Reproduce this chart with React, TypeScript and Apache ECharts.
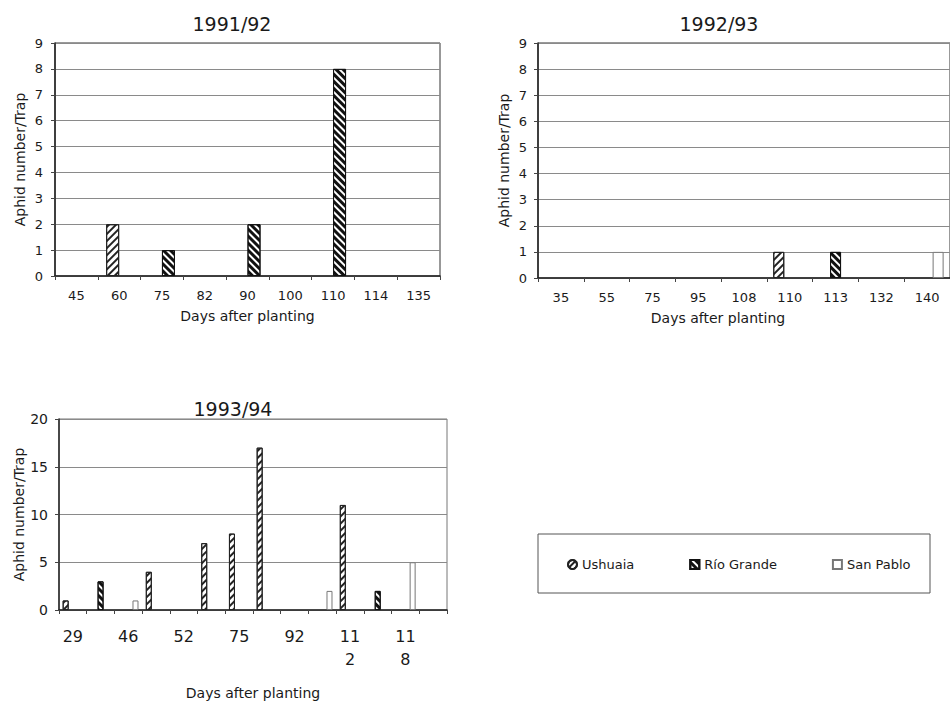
import React, { useEffect, useRef } from "react";
import * as echarts from "echarts";

const days9192 = ["45", "60", "75", "82", "90", "100", "110", "114", "135"];
const ushuaia9192 = [0, 2, 0, 0, 0, 0, 0, 0, 0];
const rioGrande9192 = [0, 0, 1, 0, 2, 0, 8, 0, 0];

const days9293 = ["35", "55", "75", "95", "108", "110", "113", "132", "140"];
const ushuaia9293 = [0, 0, 0, 0, 0, 1, 0, 0, 0];
const rioGrande9293 = [0, 0, 0, 0, 0, 0, 1, 0, 0];
const sanPablo9293 = [0, 0, 0, 0, 0, 0, 0, 0, 1];

const days9394 = ["29", "", "46", "", "52", "", "75", "", "92", "", "112", "", "118", ""];
const ushuaia9394 = [1, 0, 0, 4, 0, 7, 8, 17, 0, 0, 11, 0, 0, 0];
const rioGrande9394 = [0, 3, 0, 0, 0, 0, 0, 0, 0, 0, 0, 2, 0, 0];
const sanPablo9394 = [0, 0, 1, 0, 0, 0, 0, 0, 0, 2, 0, 0, 5, 0];

const seasons = ["1991/92", "1992/93", "1993/94"];
const siteNames = ["Ushuaia", "Río Grande", "San Pablo"];
const yAxisTitle = "Aphid number/Trap";
const xAxisTitle = "Days after planting";

const FONT = '"DejaVu Sans", "Open Sans", sans-serif';
const INK = "#1a1a1a";

const styleUsh = {
  color: "#fff",
  borderColor: "#222",
  borderWidth: 1,
  decal: {
    symbol: "rect",
    symbolSize: 1,
    dashArrayX: [1, 0],
    dashArrayY: [1.6, 2.6],
    rotation: -Math.PI / 4,
    color: "#222",
  },
};
const styleRio = {
  color: "#fff",
  borderColor: "#111",
  borderWidth: 1,
  decal: {
    symbol: "rect",
    symbolSize: 1,
    dashArrayX: [1, 0],
    dashArrayY: [2.2, 2],
    rotation: Math.PI / 4,
    color: "#111",
  },
};
const styleSan = {
  color: "#fff",
  borderColor: "#777",
  borderWidth: 1,
};

// zero counts are drawn as no bar at all
const bars = (values: number[]) => values.map((v) => (v === 0 ? null : v));

export default function App() {
  const ref = useRef<HTMLDivElement>(null);

  useEffect(() => {
    if (!ref.current) return;
    const chart = echarts.init(ref.current, undefined, { renderer: "svg" });

    const grids = [
      { left: 55, top: 43, width: 385, height: 233 },
      { left: 538, top: 43, width: 417, height: 235 },
      { left: 59, top: 419, width: 388, height: 191 },
    ].map((g, i) => ({
      ...g,
      show: true,
      borderColor: i === 2 ? "#777" : "#333",
      borderWidth: 1,
      backgroundColor: "transparent",
    }));

    const xCommon = (gridIndex: number, data: string[], fontSize: number, margin: number, extra: any = {}) => ({
      type: "category",
      gridIndex,
      data,
      axisLine: { show: true, lineStyle: { color: "#222", width: 1.5 } },
      axisTick: { show: true, length: 4, interval: 0, lineStyle: { color: "#444" } },
      axisLabel: {
        interval: 0,
        color: INK,
        fontFamily: FONT,
        fontSize,
        margin,
        ...(extra.axisLabel || {}),
      },
      splitLine: { show: false },
      ...(extra.rest || {}),
    });

    const yCommon = (gridIndex: number, max: number, interval: number, fontSize: number, margin: number, nameGap: number) => ({
      type: "value",
      gridIndex,
      min: 0,
      max,
      interval,
      name: yAxisTitle,
      nameLocation: "middle",
      nameGap,
      nameTextStyle: { color: INK, fontFamily: FONT, fontSize: 14 },
      axisLine: { show: true, lineStyle: { color: "#222", width: 1.5 } },
      axisTick: { show: true, length: 4, lineStyle: { color: "#444" } },
      axisLabel: { color: INK, fontFamily: FONT, fontSize, margin },
      splitLine: { show: true, lineStyle: { color: "#8a8a8a", width: 1 } },
    });

    const bar = (name: string, data: number[], idx: number, style: any, barWidth: number, barGap: string) => ({
      type: "bar",
      name,
      xAxisIndex: idx,
      yAxisIndex: idx,
      data: bars(data),
      barWidth,
      barGap,
      itemStyle: style,
      emphasis: { disabled: true },
    });

    const option: any = {
      animation: false,
      backgroundColor: "#fff",
      textStyle: { fontFamily: FONT },
      grid: grids,
      xAxis: [
        xCommon(0, days9192, 13, 13, {
          rest: {
            name: xAxisTitle,
            nameLocation: "middle",
            nameGap: 33,
            nameTextStyle: { color: INK, fontFamily: FONT, fontSize: 14 },
          },
        }),
        xCommon(1, days9293, 13, 13),
        xCommon(2, days9394, 16, 15, {
          axisLabel: {
            lineHeight: 23,
            formatter: (v: string) => (v.length > 2 ? v.slice(0, 2) + "\n" + v.slice(2) : v),
          },
          rest: {
            name: xAxisTitle,
            nameLocation: "middle",
            nameGap: 76,
            nameTextStyle: { color: INK, fontFamily: FONT, fontSize: 14 },
          },
        }),
      ],
      yAxis: [
        yCommon(0, 9, 1, 13, 12, 28),
        yCommon(1, 9, 1, 13, 11, 27),
        yCommon(2, 20, 5, 14, 11, 33),
      ],
      legend: {
        left: 562,
        top: 553,
        itemWidth: 9,
        itemHeight: 9,
        itemGap: 55,
        selectedMode: false,
        textStyle: { color: INK, fontFamily: FONT, fontSize: 13 },
        data: [
          { name: siteNames[0], icon: "circle" },
          { name: siteNames[1], icon: "rect" },
          { name: siteNames[2], icon: "rect" },
        ],
      },
      graphic: [
        {
          type: "rect",
          shape: { x: 538, y: 534, width: 392, height: 59 },
          style: { fill: "none", stroke: "#555", lineWidth: 1 },
          silent: true,
        },
        ...[
          { t: seasons[0], x: 232, y: 24 },
          { t: seasons[1], x: 719, y: 24 },
          { t: seasons[2], x: 233, y: 409 },
        ].map((s) => ({
          type: "text",
          x: s.x,
          y: s.y,
          silent: true,
          style: {
            text: s.t,
            fontSize: 19,
            fontFamily: FONT,
            fill: INK,
            align: "center",
            verticalAlign: "middle",
          },
        })),
        {
          type: "text",
          x: 718,
          y: 318,
          silent: true,
          style: {
            text: xAxisTitle,
            fontSize: 14,
            fontFamily: FONT,
            fill: INK,
            align: "center",
            verticalAlign: "middle",
          },
        },
      ],
      series: [
        bar(siteNames[0], ushuaia9192, 0, styleUsh, 13, "0%"),
        bar(siteNames[1], rioGrande9192, 0, styleRio, 13, "0%"),
        bar(siteNames[0], ushuaia9293, 1, styleUsh, 11, "0%"),
        bar(siteNames[1], rioGrande9293, 1, styleRio, 11, "0%"),
        bar(siteNames[2], sanPablo9293, 1, styleSan, 11, "0%"),
        bar(siteNames[0], ushuaia9394, 2, styleUsh, 6, "20%"),
        bar(siteNames[1], rioGrande9394, 2, styleRio, 6, "20%"),
        bar(siteNames[2], sanPablo9394, 2, styleSan, 6, "20%"),
      ],
    };

    chart.setOption(option);
    return () => chart.dispose();
  }, []);

  return (
    <div
      ref={ref}
      style={{ position: "absolute", left: 0, top: 0, width: 950, height: 704, background: "#fff" }}
    />
  );
}
